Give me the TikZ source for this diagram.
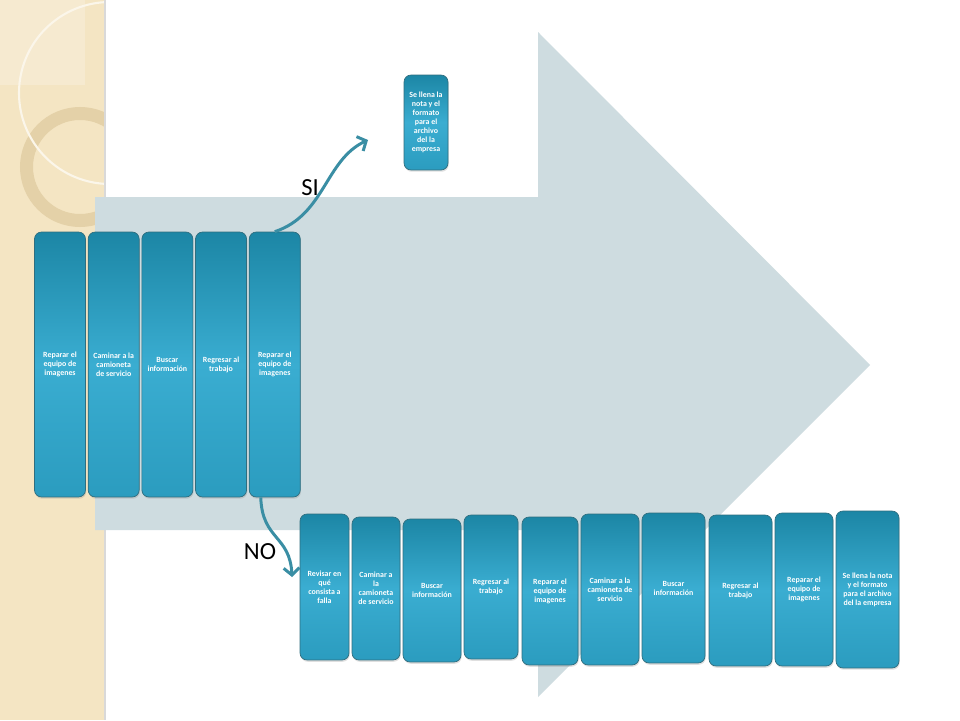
\documentclass[tikz,border=0pt]{standalone}
\usepackage{fontspec}
\setmainfont{Carlito}
\usepackage{tikz}
\usetikzlibrary{positioning, arrows.meta, shadows}

\definecolor{stripbg}{HTML}{F4E5C3}
\definecolor{striplight}{HTML}{F8EDD6}
\definecolor{ringcol}{HTML}{E4D1A8}
\definecolor{arccol}{HTML}{FBF6EA}
\definecolor{arrowgrey}{HTML}{CEDCE0}
\definecolor{boxtop}{HTML}{1C86A5}
\definecolor{boxmid}{HTML}{3AADD1}
\definecolor{boxbot}{HTML}{2B9CBF}
\definecolor{boxline}{HTML}{2F6E7F}
\definecolor{flowcol}{HTML}{3A8EA4}

\begin{document}
\begin{tikzpicture}[
x=0.02cm, y=-0.02cm,
every node/.style={align=center},
stepbox/.style={draw=boxline, line width=0.4pt, rounded corners=0.14cm, top color=boxtop, bottom color=boxbot, middle color=boxmid, text=white, font=\fontsize{4.5}{5.1}\selectfont\bfseries, inner sep=1pt, drop shadow={opacity=0.25, shadow xshift=0.4pt, shadow yshift=-1pt}},
tallbox/.style={stepbox, minimum width=1.02cm, minimum height=5.3cm},
flow/.style={line width=1.7pt, draw=flowcol, -{Straight Barb[length=4pt, width=9pt]}},
answer/.style={font=\fontsize{14}{14}\selectfont}
]
\useasboundingbox (0,0) rectangle (960,720);
\fill[white] (0,0) rectangle (960,720);
% left strip
\fill[stripbg] (0,0) rectangle (105,720);
\begin{scope}
\clip (0,0) rectangle (105,720);
\fill[striplight, opacity=0.7] (0,0) rectangle (85,85);
\draw[ringcol, line width=0.26cm] (80,167) circle[radius=53.5];
\draw[arccol, line width=1.2pt] (110,93) circle[radius=91];
\end{scope}
\draw[black!15, line width=0.6pt] (105,0) -- (105,720);
% big arrow
\fill[arrowgrey] (95,197) -- (538,197) -- (538,32) -- (870,365) -- (538,697) -- (538,530) -- (95,530) -- cycle;
% upper row
\node[tallbox] (t1) at (60,364.5) {Reparar el\\equipo de\\imagenes};
\node[tallbox, right=0.04cm of t1] (t2) {Caminar a la\\camioneta\\de servicio};
\node[tallbox, right=0.04cm of t2] (t3) {Buscar\\información};
\node[tallbox, right=0.04cm of t3] (t4) {Regresar al\\trabajo};
\node[tallbox, right=0.04cm of t4] (t5) {Reparar el\\equipo de\\imagenes};
\node[stepbox, minimum width=0.88cm, minimum height=1.9cm] (f1) at (426,122.5) {Se llena la\\nota y el\\formato\\para el\\archivo\\del la\\empresa};
% lower row
\node[stepbox, minimum width=0.98cm, minimum height=2.92cm] (b1) at (324.5,587) {Revisar en\\qué\\consista a\\falla};
\node[stepbox, minimum width=0.96cm, minimum height=2.86cm] (b2) at (376,588.5) {Caminar a\\la\\camioneta\\de servicio};
\node[stepbox, minimum width=1.16cm, minimum height=2.86cm] (b3) at (432,590.5) {Buscar\\información};
\node[stepbox, minimum width=1.08cm, minimum height=2.88cm] (b4) at (491,587) {Regresar al\\trabajo};
\node[stepbox, minimum width=1.12cm, minimum height=2.96cm] (b5) at (550,591) {Reparar el\\equipo de\\imagenes};
\node[stepbox, minimum width=1.16cm, minimum height=3.02cm] (b6) at (610,589.5) {Caminar a la\\camioneta de\\servicio};
\node[stepbox, minimum width=1.26cm, minimum height=3.00cm] (b7) at (673.5,588) {Buscar\\información};
\node[stepbox, minimum width=1.26cm, minimum height=3.02cm] (b8) at (740.5,590.5) {Regresar al\\trabajo};
\node[stepbox, minimum width=1.16cm, minimum height=3.06cm] (b9) at (804,589.5) {Reparar el\\equipo de\\imagenes};
\node[stepbox, minimum width=1.26cm, minimum height=3.14cm] (b10) at (867.5,589.5) {Se llena la nota\\y el formato\\para el  archivo\\del la empresa};
% decision
\coordinate (siend) at (368,140);
\coordinate (noend) at (292,577);
\draw[flow] (t5.north) .. controls (325,215) and (325,160) .. (siend);
\draw[flow] ([xshift=-0.28cm]t5.south) .. controls (262,540) and (290,535) .. (noend);
\node[answer] (si) at (310,188) {SI};
\node[answer] (no) at (260,552) {NO};
\end{tikzpicture}
\end{document}
